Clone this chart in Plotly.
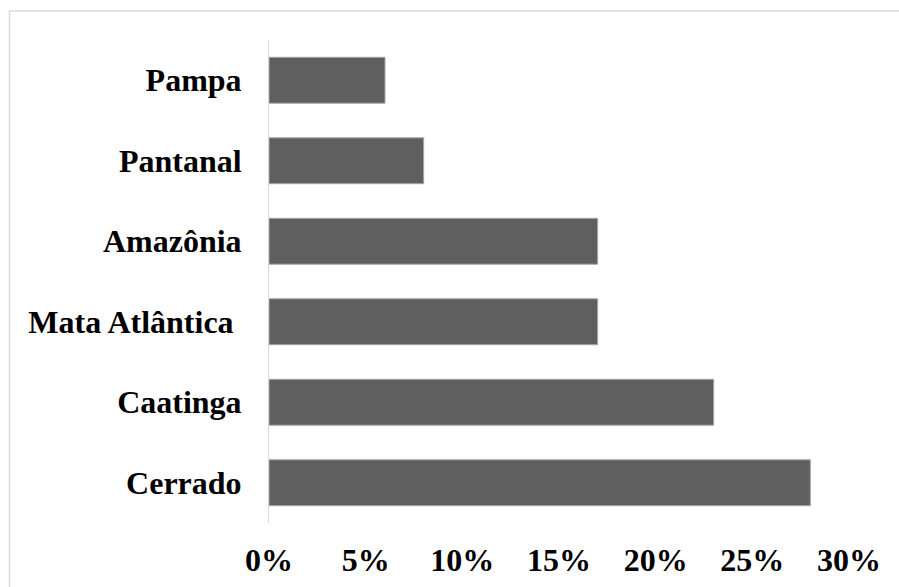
import plotly.graph_objects as go

categories = ["Cerrado", "Caatinga", "Mata Atlântica\u00a0", "Amazônia", "Pantanal", "Pampa"]
values = [28, 23, 17, 17, 8, 6]
tick_vals = [0, 5, 10, 15, 20, 25, 30]
tick_text = ["0%", "5%", "10%", "15%", "20%", "25%", "30%"]

font_family = "Liberation Serif, Times New Roman, serif"

fig = go.Figure()
fig.add_trace(go.Bar(
    y=categories, x=values, orientation="h",
    marker=dict(color="#5f5f5f", line=dict(width=1, color="#a6a6a6")),
))

fig.update_layout(
    width=899, height=587,
    margin=dict(l=269, r=50, t=40, b=64),
    paper_bgcolor="white", plot_bgcolor="white",
    bargap=0.43,
    showlegend=False,
    font=dict(family=font_family, size=32, color="black"),
    xaxis=dict(
        range=[0, 30], tickvals=tick_vals, ticktext=tick_text,
        showgrid=False, zeroline=False, showline=False, automargin=False,
        ticks="", ticklabelstandoff=15,
        tickfont=dict(family=font_family, size=32, color="black", weight="bold"),
    ),
    yaxis=dict(
        showgrid=False, zeroline=False, showline=True, linecolor="#d9d9d9", linewidth=1,
        automargin=False,
        ticks="", ticklabelstandoff=20,
        tickfont=dict(family=font_family, size=32, color="black", weight="bold"),
    ),
    shapes=[dict(
        type="rect", xref="paper", yref="paper",
        x0=(9.5 - 269) / 580, x1=1.2, y0=-0.3, y1=(523 - 11) / 483,
        line=dict(color="#d9d9d9", width=1.5), fillcolor="rgba(0,0,0,0)",
    )],
)

fig.write_html("out.html")
